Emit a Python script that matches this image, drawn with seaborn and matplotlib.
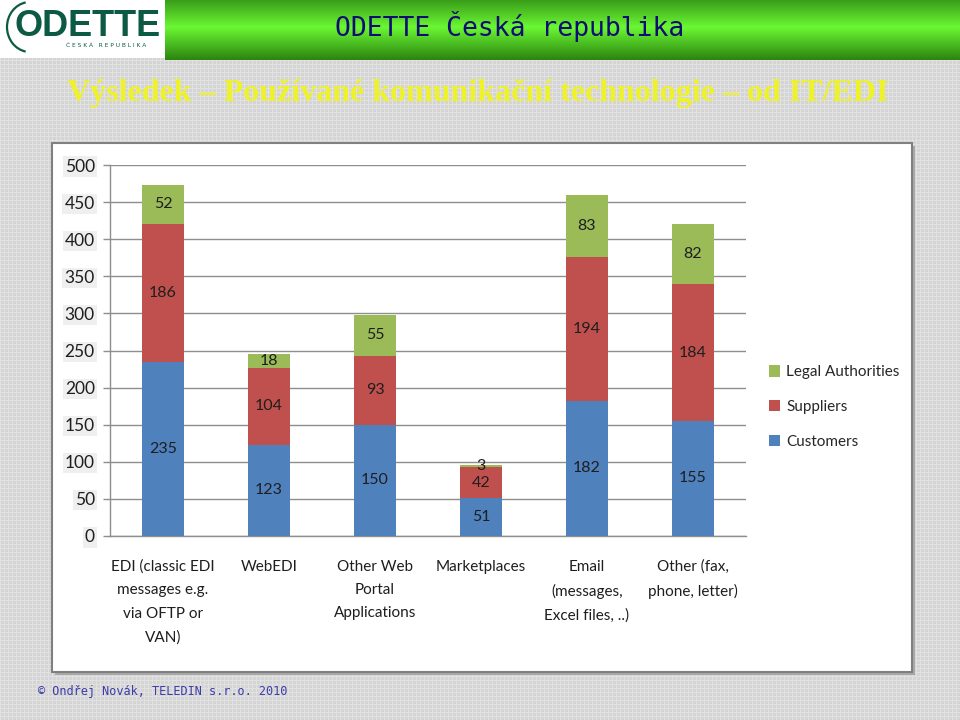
import numpy as np
import pandas as pd
import matplotlib
matplotlib.use("Agg")
import matplotlib.pyplot as plt
import seaborn as sns
from matplotlib.patches import Rectangle, Patch, Arc

# ---------------- data ----------------
categories = [
    "EDI (classic EDI\nmessages e.g.\nvia OFTP or\nVAN)",
    "WebEDI",
    "Other Web\nPortal\nApplications",
    "Marketplaces",
    "Email\n(messages,\nExcel files, ..)",
    "Other (fax,\nphone, letter)",
]
customers = [235, 123, 150, 51, 182, 155]
suppliers = [186, 104, 93, 42, 194, 184]
legal_authorities = [52, 18, 55, 3, 83, 82]
series_names = ["Customers", "Suppliers", "Legal Authorities"]
y_ticks = [0, 50, 100, 150, 200, 250, 300, 350, 400, 450, 500]

header_title = "ODETTE Česká republika"
subtitle = "Výsledek – Používané komunikační technologie – od IT/EDI"
footer = "© Ondřej Novák, TELEDIN s.r.o. 2010"

colors = {"Customers": "#4F81BD", "Suppliers": "#C0504D", "Legal Authorities": "#9BBB59"}

df = pd.DataFrame({
    "category": categories,
    "Customers": customers,
    "Suppliers": suppliers,
    "Legal Authorities": legal_authorities,
})
df["cum_c"] = df["Customers"]
df["cum_s"] = df["cum_c"] + df["Suppliers"]
df["cum_l"] = df["cum_s"] + df["Legal Authorities"]

# ---------------- figure ----------------
sns.set_theme(style="white")
plt.rcParams["font.family"] = ["Lato", "DejaVu Sans"]

W, H = 960, 720
fig = plt.figure(figsize=(9.6, 7.2), dpi=100)

# textured grey slide background
bg = np.full((H, W, 3), 0.835)
bg[::4, :, :] = 0.885
bg[:, ::4, :] = 0.885
fig.figimage(bg, xo=0, yo=0, zorder=-10)

def fx(px):
    return px / W

def fy(py):
    return 1 - py / H

# header green gradient bar
hax = fig.add_axes([fx(165), fy(60), fx(960 - 165), 60 / H], zorder=1)
grad = np.linspace(0, 1, 60)
top = np.array([0.23, 0.62, 0.10])
mid = np.array([0.42, 0.97, 0.20])
bot = np.array([0.17, 0.52, 0.06])
col = np.where(grad[:, None] < 0.45,
               top + (mid - top) * (grad[:, None] / 0.45),
               mid + (bot - mid) * ((grad[:, None] - 0.45) / 0.55))
img = np.repeat(col[:, None, :], 20, axis=1)
hax.imshow(img, aspect="auto", extent=[0, 1, 0, 1])
hax.set_axis_off()
fig.text(fx(510), fy(27), header_title, ha="center", va="center",
         fontsize=19, color="#0c0c72", family=["DejaVu Sans Mono"], zorder=3)

# logo
lax = fig.add_axes([0, fy(58), fx(165), 58 / H], zorder=1)
lax.set_xlim(0, 165)
lax.set_ylim(58, 0)
lax.set_facecolor("white")
for s in lax.spines.values():
    s.set_visible(False)
lax.set_xticks([])
lax.set_yticks([])
lax.text(14, 27, "ODETTE", ha="left", va="center", fontsize=26, fontweight="bold",
         color="#0c5a44", family=["Liberation Sans", "DejaVu Sans"])
lax.add_patch(Arc((30, 27), 46, 50, theta1=100, theta2=260, color="#0c5a44", lw=1.6))
lax.text(106, 45.5, "Č E S K Á   R E P U B L I K A", ha="center", va="center", fontsize=4.2,
         color="#0c5a44", family=["DejaVu Sans"])

# subtitle
fig.text(fx(478), fy(94), subtitle, ha="center", va="center", fontsize=23, fontweight="bold",
         color="#eef22a", family=["Liberation Serif", "DejaVu Serif"], zorder=3)

# footer
fig.text(fx(38), fy(691), footer, ha="left", va="center", fontsize=8.6,
         color="#3c3caa", family=["DejaVu Sans Mono"], zorder=3)

# chart panel with shadow
fig.patches.append(Rectangle((fx(55), fy(675)), fx(912 - 52), (672 - 143) / H,
                             transform=fig.transFigure, facecolor="#a8a8a8",
                             edgecolor="none", zorder=1))
fig.patches.append(Rectangle((fx(52), fy(672)), fx(912 - 52), (672 - 143) / H,
                             transform=fig.transFigure, facecolor="white",
                             edgecolor="#808080", linewidth=1.5, zorder=1))

# ---------------- chart ----------------
ax = fig.add_axes([fx(110), fy(536), fx(746 - 110), (536 - 165) / H], zorder=2)
ax.set_facecolor("none")

layers = [("cum_l", "Legal Authorities"), ("cum_s", "Suppliers"), ("cum_c", "Customers")]
for colname, name in layers:
    sns.barplot(data=df, x="category", y=colname, order=categories, color=colors[name],
                saturation=1, width=0.4, ax=ax, edgecolor="none", zorder=3)

for i in range(len(categories)):
    bottom = 0
    for name in series_names:
        v = df.loc[i, name]
        ax.text(i, bottom + v / 2, str(v), ha="center", va="center",
                fontsize=11.5, color="#1e1e1e", zorder=5)
        bottom += v

ax.set_xlim(-0.5, len(categories) - 0.5)
ax.set_ylim(0, 500)
ax.set_yticks(y_ticks)
ax.set_xlabel("")
ax.set_ylabel("")
ax.yaxis.grid(True, color="#8e8e8e", linewidth=1)
ax.xaxis.grid(False)
ax.set_axisbelow(True)
for s in ["top", "right"]:
    ax.spines[s].set_visible(False)
for s in ["left", "bottom"]:
    ax.spines[s].set_color("#8e8e8e")
    ax.spines[s].set_linewidth(1)

ax.set_xticks(range(len(categories)))
ax.set_xticklabels(categories, fontsize=11, linespacing=1.85, color="#1e1e1e")
ax.set_xticks(np.arange(-0.5, len(categories), 1.0), minor=True)
ax.tick_params(axis="x", which="major", length=0, pad=17)
ax.tick_params(axis="x", which="minor", length=6, color="#8e8e8e", width=1, direction="out")
ax.tick_params(axis="y", length=5, color="#8e8e8e", width=1, direction="out", pad=6,
               labelsize=12.5, labelcolor="#1e1e1e", left=True)
for lbl in ax.get_yticklabels():
    lbl.set_bbox(dict(facecolor="#efefef", edgecolor="none", pad=1.5))

handles = [Patch(facecolor=colors[n], edgecolor="none") for n in reversed(series_names)]
fig.legend(handles, list(reversed(series_names)), loc="center left",
           bbox_to_anchor=(fx(755), fy(407)), frameon=False, fontsize=11,
           handlelength=0.75, handleheight=0.75, handletextpad=0.4, labelspacing=1.35)

fig.savefig("out.png", dpi=100)
